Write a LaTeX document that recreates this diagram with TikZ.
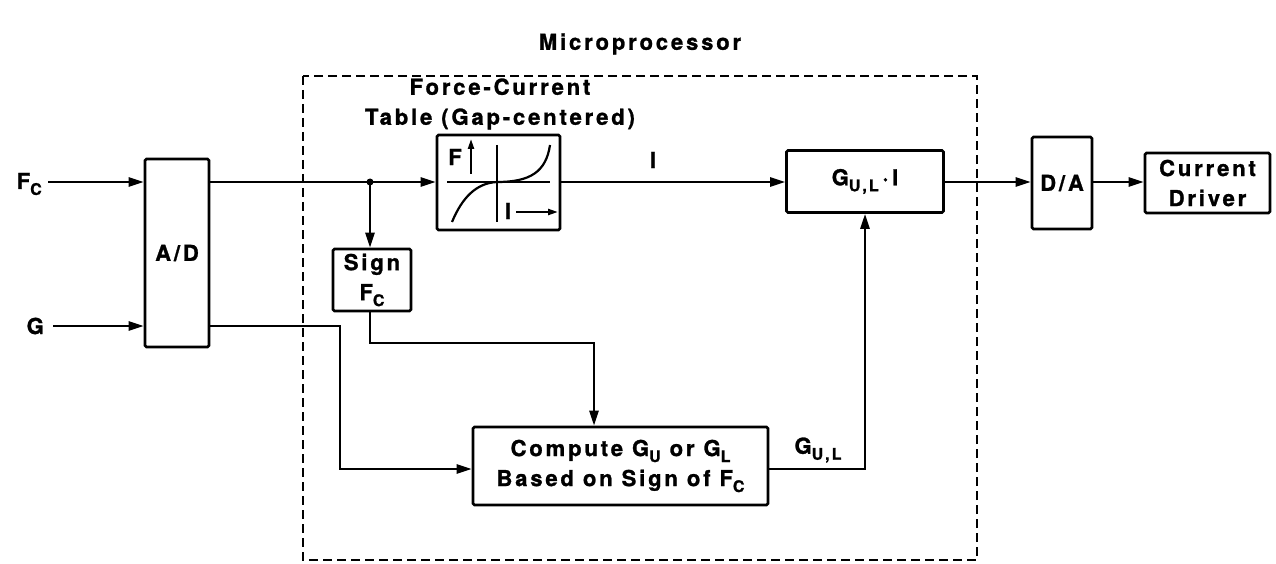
\documentclass[tikz,border=0pt]{standalone}
\usepackage{fontspec}
\setmainfont{TeX Gyre Heros}[BoldFont={* Bold},BoldFeatures={FakeBold=1.2},LetterSpace=13]
\usepackage{tikz}
\usetikzlibrary{arrows.meta,calc}
\newcommand{\sbs}[1]{\raisebox{-0.5ex}{\fontsize{16}{16}\selectfont #1}}
\tikzset{
  lbl/.style     = {font=\fontsize{22}{30}\selectfont\bfseries, inner sep=1pt},
  blk/.style     = {draw, line width=2.6pt, rounded corners=1.5pt, inner sep=2pt, lbl},
  sigln/.style   = {line width=2.6pt},
  sigarr/.style  = {sigln, -{Triangle[length=15pt,width=9pt]}},
  smarr/.style   = {line width=2.2pt, -{Triangle[length=10pt,width=6pt]}},
  dashbox/.style = {line width=2pt, dash pattern=on 9pt off 5pt}
}

\begin{document}
\begin{tikzpicture}[x=1pt,y=-1pt]
  \useasboundingbox (0,0) rectangle (1276,564);
  % microprocessor boundary
  \draw[dashbox] (303,76) rectangle (977,560);
  \node[lbl] (mp) at (640,44) {Microprocessor};
  % inputs and converters
  \node[lbl, anchor=east] (fcin) at (43,184) {F\sbs{C}};
  \node[lbl, anchor=east] (gin)  at (45,326) {G};
  \node[blk, minimum width=64pt, minimum height=188pt] (adc) at (177,253) {A/D};
  \draw[sigarr] (48,182) -- (adc.west |- 0,182);
  \draw[sigarr] (53,326) -- (adc.west |- 0,326);
  % force-current table
  \node[lbl, align=center] (tbltxt) at (500,104) {Force-Current\\Table (Gap-centered)};
  \node[blk, minimum width=123pt, minimum height=95pt] (tbl) at (498.5,182.5) {};
  \draw[line width=2pt] (447,182) -- (550,182);
  \draw[line width=2pt] (497,145) -- (497,222);
  \draw[line width=2.2pt] (452,222) .. controls (462,198) and (476,183) .. (497,182)
        .. controls (530,182) and (546,172) .. (550,145);
  \node[lbl] (faxis) at (455,157) {F};
  \draw[smarr] (471,174) -- (471,139);
  \node[lbl] (iaxis) at (508,211) {I};
  \draw[smarr] (516,212) -- (558,212);
  % sign and gain selection
  \coordinate (jn) at (370,182);
  \node[blk, align=center, minimum width=78pt, minimum height=62pt] (sgn) at (372,280) {Sign\\F\sbs{C}};
  \node[blk, align=center, minimum width=295pt, minimum height=78pt] (cmp) at (620.5,466)
        {Compute G\sbs{U} or G\sbs{L}\\Based on Sign of F\sbs{C}};
  \node[blk, minimum width=157pt, minimum height=62pt] (gmul) at (865,181.5) {G\sbs{U,L}\,·\,I};
  \draw[sigln] (adc.east |- jn) -- (jn);
  \fill (jn) circle (3.5pt);
  \draw[sigarr] (jn) -- (tbl.west |- jn);
  \draw[sigarr] (jn) -- (jn |- sgn.north);
  \draw[sigarr] (jn |- sgn.south) -- (370,343) -| ([xshift=-26.5pt]cmp.north);
  \draw[sigarr] (adc.east |- 0,326) -| (340,469) -- (cmp.west |- 0,469);
  \draw[sigarr] (cmp.east |- 0,469) -| (gmul.south);
  \node[lbl] (gul) at (818,450) {G\sbs{U,L}};
  \draw[sigarr] (tbl.east |- jn) -- (gmul.west |- jn);
  \node[lbl] (ilbl) at (653,160) {I};
  % output stage
  \node[blk, minimum width=60pt, minimum height=92pt] (dac) at (1062,183) {D/A};
  \node[blk, align=center, minimum width=125pt, minimum height=60pt] (drv) at (1207.5,183) {Current\\Driver};
  \draw[sigarr] (gmul.east |- jn) -- (dac.west |- jn);
  \draw[sigarr] (dac.east |- jn) -- (drv.west |- jn);
\end{tikzpicture}
\end{document}
